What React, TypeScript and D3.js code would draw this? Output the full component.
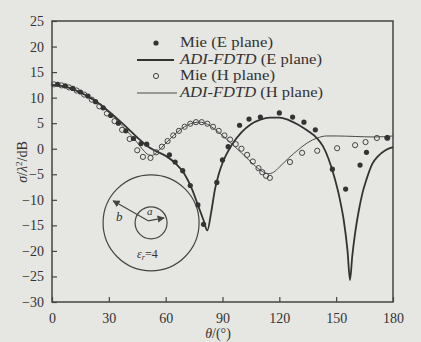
import React, { useEffect, useRef } from 'react';
import * as d3 from 'd3';

// ADI-FDTD, E plane (thick line)
const fdtdEAngle = [0, 5, 10, 15, 20, 25, 30, 35, 40, 45, 50, 55, 60, 65, 70, 74, 77, 80, 82, 84, 86, 88, 90, 95, 100, 105, 110, 115, 120, 125, 130, 135, 140, 143, 146, 149, 152, 154, 156, 157.3, 158.5, 160, 162, 164, 166, 169, 172, 176, 180];
const fdtdEValue = [12.5, 12.3, 11.8, 11, 10, 8.8, 7.3, 5.7, 4, 2.2, 0.6, -0.5, -1.4, -2.8, -5, -8, -11, -14, -16, -12.5, -8, -5, -2.8, 0.8, 3.2, 4.8, 5.7, 6.1, 6.1, 5.6, 4.7, 3.5, 2, 0.5, -2, -5.5, -10, -14, -20, -25.7, -21, -16.5, -12, -8.5, -6, -3, -1.5, -0.3, 0.3];

// ADI-FDTD, H plane (thin line)
const fdtdHAngle = [0, 5, 10, 15, 20, 25, 30, 35, 40, 45, 48, 51, 53, 55, 58, 62, 66, 70, 74, 78, 82, 86, 90, 95, 100, 105, 110, 114, 117, 120, 125, 130, 135, 140, 145, 150, 160, 170, 180];
const fdtdHValue = [12.5, 12.3, 11.8, 11, 10, 8.7, 7.1, 5.3, 3.3, 1.2, -0.2, -1.2, -1.3, -0.8, 0.3, 1.8, 3.2, 4.3, 5, 5.2, 4.8, 3.8, 2.6, 0.9, -0.8, -2.6, -4.2, -4.9, -4.6, -3.6, -1.8, -0.2, 1.2, 2.1, 2.5, 2.5, 2.4, 2.3, 2.5];

// Mie, E plane (filled dots)
const mieEAngle = [3, 7, 11, 15, 19, 23, 27, 31, 35, 39, 43, 47, 50, 62, 65, 69, 73, 77, 80, 87, 90, 93, 99, 104, 110, 120, 127, 133, 139, 148, 155, 162.6, 166, 177];
const mieEValue = [12.6, 12.3, 11.8, 11.1, 10.3, 9.2, 8, 6.5, 5, 3.5, 2, 1, 0.9, -1.2, -2.6, -4.3, -7.2, -11, -14.8, -6.6, -2.2, 0.4, 4.6, 5.8, 6.2, 7, 6.2, 5.2, 3.7, -4, -7.9, -3.2, -0.7, 2.2];

// Mie, H plane (open circles)
const mieHAngle = [1, 5, 9, 13, 17, 21, 25, 29, 33, 37, 41, 45, 48, 52, 55, 58, 61, 64, 67, 70, 73, 76, 79, 82, 85, 88, 91, 94, 97, 100, 103, 106, 109, 111, 113, 115, 125.6, 132, 140, 150.5, 160, 165.5, 171.5, 177];
const mieHValue = [12.6, 12.4, 12, 11.4, 10.6, 9.6, 8.3, 6.9, 5.4, 3.7, 1.9, -0.3, -1.6, -1.8, -0.7, 0.4, 1.5, 2.6, 3.5, 4.3, 4.9, 5.2, 5.2, 4.9, 4.3, 3.5, 2.6, 1.8, 0.9, 0, -1.2, -2.5, -3.8, -4.6, -5.3, -5.7, -2.6, -0.8, -0.4, 0.1, 0.7, 1.3, 2.1, 2.1];

const xTicks = [0, 30, 60, 90, 120, 150, 180];
const yTicks = [25, 20, 15, 10, 5, 0, -5, -10, -15, -20, -25, -30];

const legendLabels = ['Mie (E plane)', 'ADI-FDTD (E plane)', 'Mie (H plane)', 'ADI-FDTD (H plane)'];

export default function App() {
  const ref = useRef<SVGSVGElement>(null);

  useEffect(() => {
    const svg = d3.select(ref.current);
    svg.selectAll('*').remove();

    const W = 421, H = 342;
    const margin = { top: 21, right: 28, bottom: 40, left: 52 };
    const ink = '#333';
    const font = '"Liberation Serif", "Times New Roman", serif';

    svg.append('rect').attr('width', W).attr('height', H).attr('fill', '#e6e6e2');

    const x = d3.scaleLinear().domain([0, 180]).range([margin.left, W - margin.right]);
    const y = d3.scaleLinear().domain([-30, 25]).range([H - margin.bottom, margin.top]);

    // frame
    svg.append('rect')
      .attr('x', x(0)).attr('y', y(25))
      .attr('width', x(180) - x(0)).attr('height', y(-30) - y(25))
      .attr('fill', 'none').attr('stroke', '#444').attr('stroke-width', 1.5);

    // axes with inward ticks
    const xAxis = svg.append('g')
      .attr('transform', `translate(0,${y(-30)})`)
      .call(d3.axisBottom(x).tickValues(xTicks).tickSize(-5).tickPadding(11));
    const yAxis = svg.append('g')
      .attr('transform', `translate(${x(0)},0)`)
      .call(d3.axisLeft(y).tickValues(yTicks).tickSize(-5).tickPadding(8));
    [xAxis, yAxis].forEach(g => {
      g.select('.domain').remove();
      g.selectAll('line').attr('stroke', '#444').attr('stroke-width', 1.2);
      g.selectAll('text').attr('fill', ink).attr('font-family', font).attr('font-size', 14);
    });

    // curves
    const line = d3.line<[number, number]>()
      .x(d => x(d[0])).y(d => y(d[1]))
      .curve(d3.curveMonotoneX);
    svg.append('path')
      .attr('d', line(fdtdHAngle.map((a, i) => [a, fdtdHValue[i]] as [number, number])))
      .attr('fill', 'none').attr('stroke', '#4a4a4a').attr('stroke-width', 1);
    svg.append('path')
      .attr('d', line(fdtdEAngle.map((a, i) => [a, fdtdEValue[i]] as [number, number])))
      .attr('fill', 'none').attr('stroke', '#333').attr('stroke-width', 1.8);

    // markers
    svg.append('g').selectAll('circle')
      .data(mieHAngle.map((a, i) => [a, mieHValue[i]]))
      .enter().append('circle')
      .attr('cx', d => x(d[0])).attr('cy', d => y(d[1])).attr('r', 2.6)
      .attr('fill', 'none').attr('stroke', '#444').attr('stroke-width', 1);
    svg.append('g').selectAll('circle')
      .data(mieEAngle.map((a, i) => [a, mieEValue[i]]))
      .enter().append('circle')
      .attr('cx', d => x(d[0])).attr('cy', d => y(d[1])).attr('r', 2.6)
      .attr('fill', '#333');

    // legend
    const lg = svg.append('g').attr('font-family', font).attr('font-size', 14).attr('fill', ink);
    const rows = [43, 60, 76, 93];
    const widths = [93, 142, 95, 143];
    lg.append('circle').attr('cx', 156).attr('cy', rows[0]).attr('r', 2.6).attr('fill', '#333');
    lg.append('line').attr('x1', 137).attr('x2', 174).attr('y1', rows[1]).attr('y2', rows[1])
      .attr('stroke', '#333').attr('stroke-width', 1.8);
    lg.append('circle').attr('cx', 156).attr('cy', rows[2]).attr('r', 2.6)
      .attr('fill', 'none').attr('stroke', '#444').attr('stroke-width', 1);
    lg.append('line').attr('x1', 137).attr('x2', 177).attr('y1', rows[3]).attr('y2', rows[3])
      .attr('stroke', '#4a4a4a').attr('stroke-width', 1);
    legendLabels.forEach((lab, i) => {
      const t = lg.append('text').attr('x', 180).attr('y', rows[i] + 4)
        .attr('textLength', widths[i]).attr('lengthAdjust', 'spacingAndGlyphs');
      if (lab.startsWith('ADI')) {
        t.append('tspan').attr('font-style', 'italic').text('ADI-FDTD');
        t.append('tspan').text(lab.slice(8));
      } else {
        t.text(lab);
      }
    });

    // inset: coated cylinder sketch
    const cx = x(52.3), cy = y(-14.5);
    const ins = svg.append('g').attr('stroke', '#444').attr('fill', 'none').attr('stroke-width', 1.2);
    ins.append('circle').attr('cx', cx).attr('cy', cy).attr('r', 48);
    ins.append('circle').attr('cx', cx).attr('cy', cy).attr('r', 16);
    const defs = svg.append('defs');
    defs.append('marker').attr('id', 'ah').attr('viewBox', '0 0 10 10').attr('refX', 9).attr('refY', 5)
      .attr('markerWidth', 6).attr('markerHeight', 6).attr('orient', 'auto')
      .append('path').attr('d', 'M0,0L10,5L0,10z').attr('fill', '#444');
    ins.append('line').attr('x1', cx - 3).attr('y1', cy - 2).attr('x2', cx - 38).attr('y2', cy - 22)
      .attr('marker-end', 'url(#ah)');
    ins.append('line').attr('x1', cx - 3).attr('y1', cy - 2).attr('x2', cx + 13).attr('y2', cy - 5)
      .attr('marker-end', 'url(#ah)');
    const it = svg.append('g').attr('font-family', font).attr('font-style', 'italic').attr('fill', ink).attr('font-size', 13);
    it.append('text').attr('x', cx - 35).attr('y', cy - 2).text('b');
    it.append('text').attr('x', cx - 4).attr('y', cy - 8).attr('font-size', 11).text('a');
    const er = it.append('text').attr('x', cx - 14).attr('y', cy + 35).attr('font-size', 12);
    er.append('tspan').text('ε');
    er.append('tspan').attr('font-size', 8).attr('dy', 2).text('r');
    er.append('tspan').attr('dy', -2).attr('font-style', 'normal').text('=4');

    // axis titles
    const xl = svg.append('text').attr('x', 218).attr('y', 338).attr('text-anchor', 'middle')
      .attr('font-family', font).attr('font-size', 14).attr('fill', ink);
    xl.append('tspan').attr('font-style', 'italic').text('θ');
    xl.append('tspan').text('/(°)');

    const yl = svg.append('text').attr('transform', `translate(27,162) rotate(-90)`).attr('text-anchor', 'middle')
      .attr('font-family', font).attr('font-size', 14).attr('fill', ink);
    yl.append('tspan').attr('font-style', 'italic').text('σ');
    yl.append('tspan').text('/');
    yl.append('tspan').attr('font-style', 'italic').text('λ');
    yl.append('tspan').attr('font-size', 9).attr('dy', -5).text('2');
    yl.append('tspan').attr('dy', 5).text('/dB');
  }, []);

  return (
    <div style={{ position: 'absolute', left: 0, top: 0 }}>
      <svg ref={ref} width={421} height={342} style={{ display: 'block' }} />
    </div>
  );
}
